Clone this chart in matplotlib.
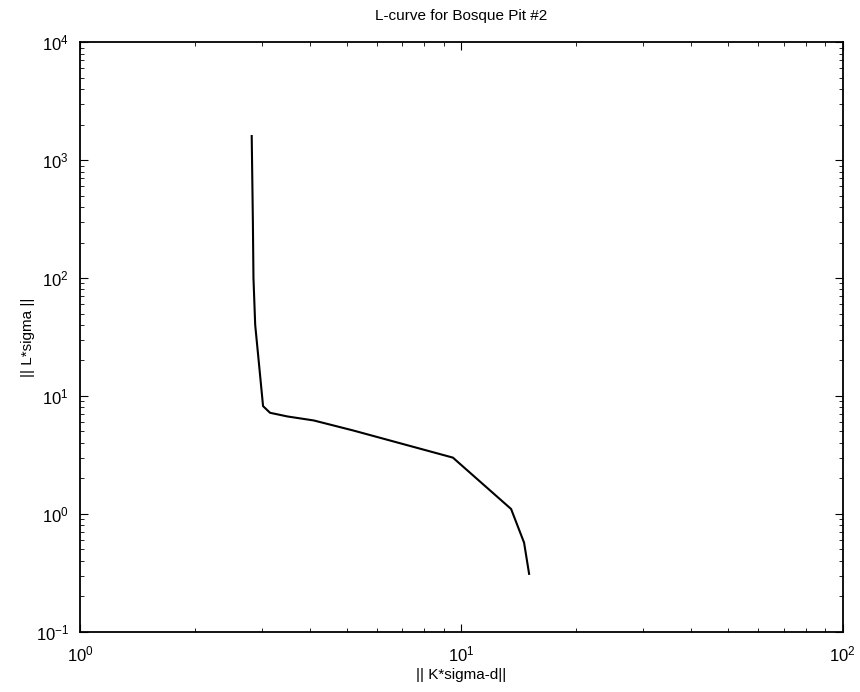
from matplotlib import pyplot as plt
import numpy as np

# residual norm ||K*sigma - d|| and seminorm ||L*sigma|| along the L-curve
resid_norm = [2.82, 2.84, 2.85, 2.88, 2.95, 3.02, 3.15, 3.5, 4.1, 5.2, 9.5, 13.5, 14.6, 15.05]
seminorm = [1600, 300, 100, 40, 18, 8.2, 7.2, 6.7, 6.2, 5.1, 3.0, 1.1, 0.57, 0.31]

plt.rcParams['font.family'] = ['Liberation Sans', 'DejaVu Sans']

fig = plt.figure(figsize=(8.6, 6.92), dpi=100)
ax = fig.add_axes([0.093, 0.087, 0.887, 0.852])
ax.plot(resid_norm, seminorm, 'k-', lw=1.5)
ax.set_xscale('log')
ax.set_yscale('log')
ax.set_xlim(1, 100)
ax.set_ylim(0.1, 1e4)
ax.tick_params(which='both', direction='in', top=True, right=True, labelsize=12)
ax.tick_params(which='major', length=6)
ax.tick_params(which='minor', length=3)
ax.tick_params(axis='x', which='major', pad=9)
ax.tick_params(axis='y', which='major', pad=8)
for s in ax.spines.values():
    s.set_linewidth(1.3)
ax.set_title("L-curve for Bosque Pit #2", fontsize=11, pad=16)
ax.set_xlabel("|| K*sigma-d||", fontsize=11)
ax.set_ylabel("|| L*sigma ||", fontsize=11)
ax.xaxis.set_label_coords(0.5, -0.062)
ax.yaxis.set_label_coords(-0.059, 0.5)
fig.savefig("out.png", dpi=100)
